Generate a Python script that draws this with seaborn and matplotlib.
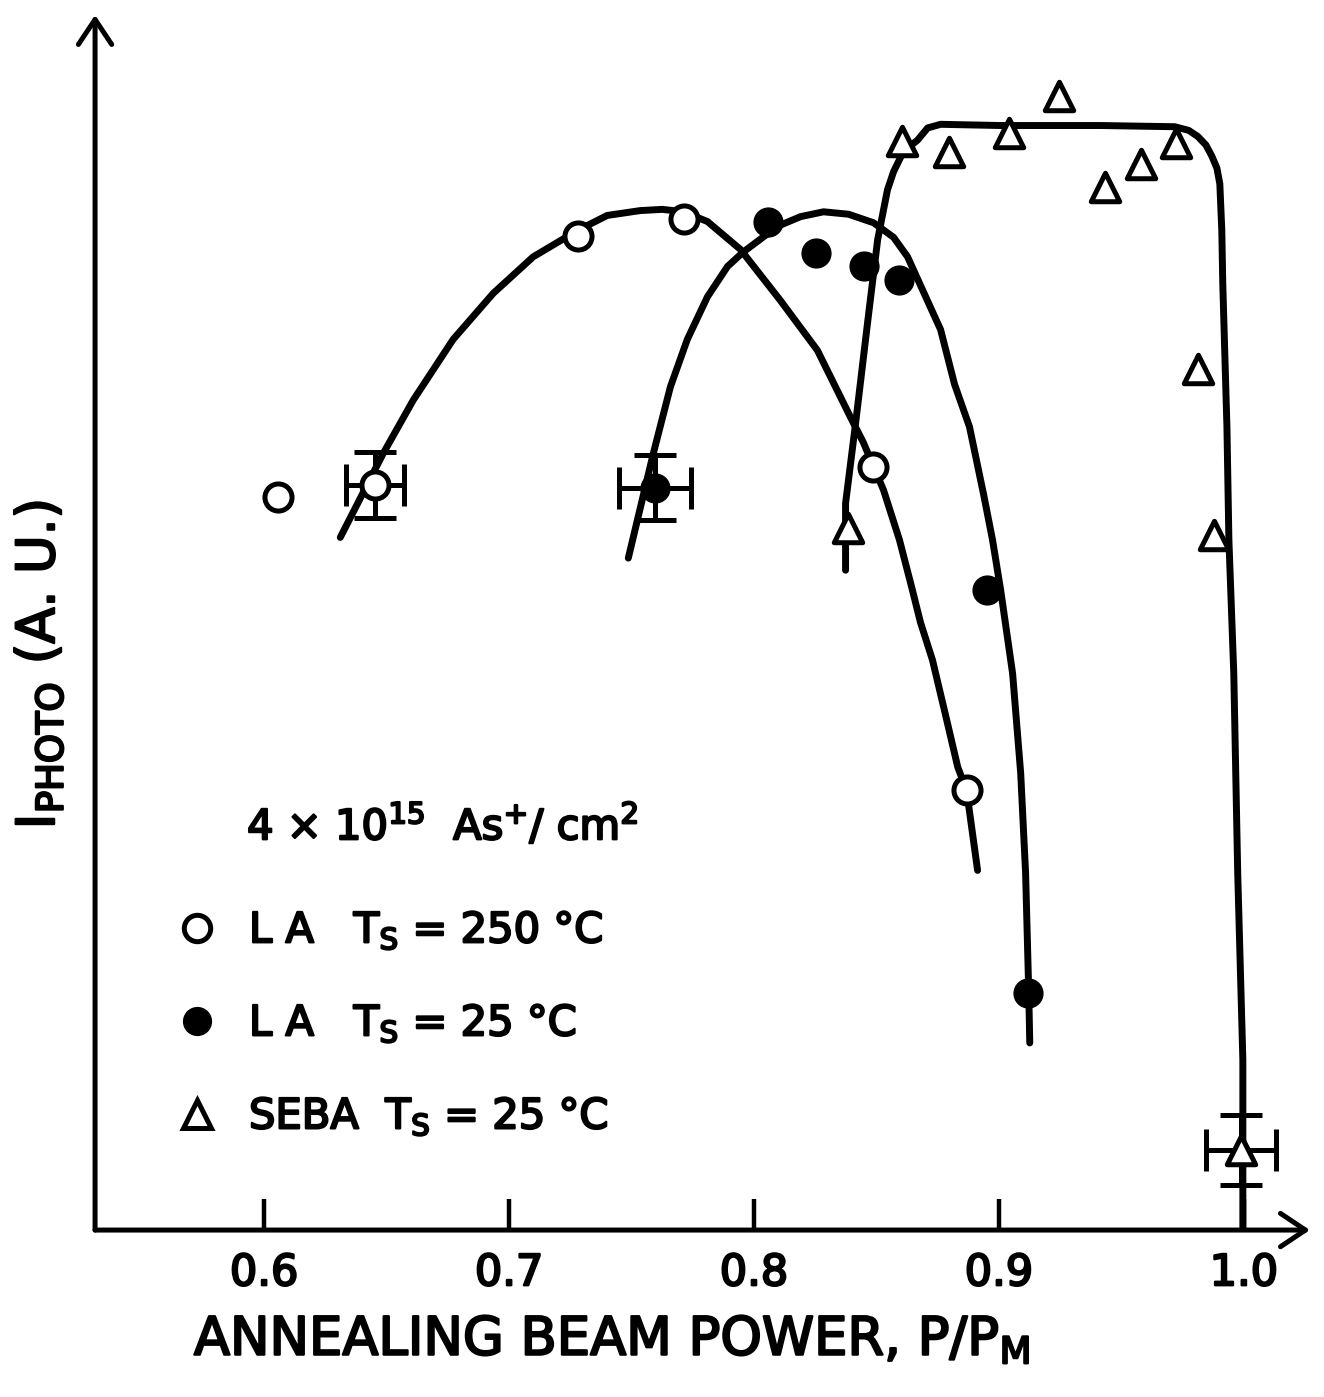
import numpy as np
import pandas as pd
import matplotlib
matplotlib.use("Agg")
import matplotlib.pyplot as plt
import matplotlib.patheffects as pe
from matplotlib.lines import Line2D
import seaborn as sns

# ---------------- data ----------------
la250_x = [0.6057, 0.6454, 0.7283, 0.7716, 0.8488, 0.8868]
la250_y = [60.3, 61.3, 81.8, 83.2, 62.8, 36.2]

la25_x = [0.7598, 0.8059, 0.8255, 0.8451, 0.8594, 0.8950, 0.9117]
la25_y = [61.1, 83.0, 80.4, 79.3, 78.2, 52.7, 19.5]

seba_x = [0.8382, 0.8603, 0.8795, 0.9040, 0.9244, 0.9432, 0.9579,
          0.9722, 0.9812, 0.9877, 0.9988]
seba_y = [57.8, 89.6, 88.7, 90.3, 93.3, 85.8, 87.7, 89.5, 70.9, 57.2, 6.6]

# error-bar points
err_x = [0.6454, 0.7598, 0.9988]
err_y = [61.3, 61.1, 6.6]
err_dx = [0.0118, 0.0147, 0.0143]
err_dy = [2.7, 2.7, 2.9]

# hand-drawn guide curves
curve250_x = [0.6311, 0.6486, 0.6609, 0.6772, 0.6936, 0.7099, 0.7283, 0.7401,
              0.7536, 0.7626, 0.7712, 0.7810, 0.7945, 0.8108, 0.8259, 0.8394,
              0.8447, 0.8529, 0.8594, 0.8644, 0.8680, 0.8729, 0.8782, 0.8832,
              0.8868, 0.8913]
curve250_y = [57.0, 63.9, 68.3, 73.3, 77.1, 80.1, 82.3, 83.5,
              83.9, 84.0, 83.8, 83.0, 80.7, 76.5, 72.4, 66.9,
              64.8, 60.9, 56.8, 52.9, 50.0, 46.9, 42.4, 38.1,
              36.2, 29.6]

curve25_x = [0.7487, 0.7589, 0.7659, 0.7728, 0.7810, 0.7892, 0.7957, 0.8096,
             0.8190, 0.8284, 0.8386, 0.8488, 0.8570, 0.8627, 0.8762, 0.8819,
             0.8880, 0.8938, 0.8974, 0.9007, 0.9056, 0.9089, 0.9109, 0.9122,
             0.9126]
curve25_y = [55.3, 63.9, 69.4, 73.3, 76.8, 79.3, 80.5, 82.6,
             83.4, 83.8, 83.6, 82.9, 81.7, 80.1, 74.1, 69.6,
             66.1, 60.5, 56.8, 52.7, 45.8, 37.6, 29.4, 19.5,
             15.4]

curveseba_x = [0.8374, 0.8374, 0.8415, 0.8464, 0.8505, 0.8545, 0.8570, 0.8599,
               0.8631, 0.8668, 0.8709, 0.8762, 0.9007, 0.9416, 0.9718, 0.9775,
               0.9812, 0.9845, 0.9869, 0.9890, 0.9902, 0.9910, 0.9914, 0.9931,
               0.9939, 0.9959, 0.9975, 0.9996, 0.9996]
curveseba_y = [54.3, 59.8, 66.4, 74.7, 81.5, 85.6, 87.1, 88.3,
               89.1, 89.7, 90.7, 91.0, 90.9, 90.9, 90.8, 90.5,
               90.0, 89.3, 88.4, 87.4, 86.1, 82.3, 77.9, 66.1,
               56.8, 45.8, 29.4, 14.0, 0.0]

tick_vals = [0.6, 0.7, 0.8, 0.9, 1.0]
tick_labels = ["0.6", "0.7", "0.8", "0.9", "1.0"]

legend_title = r"4 × 10$^{\mathregular{15}}$  As$^{\mathregular{+}}$/ cm$^{\mathregular{2}}$"
legend_labels = [r"L A   T$_{\mathregular{S}}$ = 250 °C",
                 r"L A   T$_{\mathregular{S}}$ = 25 °C",
                 r"SEBA  T$_{\mathregular{S}}$ = 25 °C"]
xlabel = r"ANNEALING BEAM POWER, P/P$_{\mathregular{M}}$"
ylabel = r"I$_{\mathregular{PHOTO}}$ (A. U.)"

# ---------------- style ----------------
sns.set_theme(style="white")
plt.rcParams["font.family"] = ["DejaVu Sans"]
plt.rcParams["mathtext.fontset"] = "dejavusans"
plt.rcParams["text.color"] = "black"
plt.rcParams["axes.labelcolor"] = "black"
plt.rcParams["xtick.color"] = "black"
plt.rcParams["ytick.color"] = "black"

thick = [pe.withStroke(linewidth=1.6, foreground="black")]

fig = plt.figure(figsize=(13.24, 13.97), dpi=100)
fig.patch.set_facecolor("white")
ax = fig.add_axes([0.0718, 0.1195, 0.9176, 0.8698])
ax.set_facecolor("white")

LW = 5.0
for cx, cy in [(curve250_x, curve250_y), (curve25_x, curve25_y),
               (curveseba_x, curveseba_y)]:
    df = pd.DataFrame({"x": cx, "y": cy})
    sns.lineplot(data=df, x="x", y="y", sort=False, estimator=None,
                 color="black", lw=LW, ax=ax, zorder=2,
                 solid_capstyle="round", solid_joinstyle="round")

ax.errorbar(err_x, err_y, xerr=err_dx, yerr=err_dy, fmt="none",
            ecolor="black", elinewidth=3.6, capsize=15, capthick=3.6,
            zorder=3)

sns.scatterplot(x=la250_x, y=la250_y, marker="o", s=380, facecolor="white",
                edgecolor="black", linewidth=3.6, ax=ax, zorder=4)
sns.scatterplot(x=la25_x, y=la25_y, marker="o", s=430, facecolor="black",
                edgecolor="black", linewidth=1, ax=ax, zorder=4)
sns.scatterplot(x=seba_x, y=seba_y, marker="^", s=420, facecolor="white",
                edgecolor="black", linewidth=3.6, ax=ax, zorder=4)

ax.set_xlim(0.531, 1.027)
ax.set_ylim(0, 100)

for s in ax.spines.values():
    s.set_visible(False)

# axes with arrow heads
arrow_kw = dict(arrowstyle="->,head_length=0.6,head_width=0.4", lw=3.6,
                color="black", shrinkA=0, shrinkB=0, mutation_scale=30)
ax.annotate("", xy=(1.0, 0.0), xytext=(0.0, 0.0), xycoords="axes fraction",
            textcoords="axes fraction", arrowprops=arrow_kw,
            annotation_clip=False)
ax.annotate("", xy=(0.0, 1.0), xytext=(0.0, 0.0), xycoords="axes fraction",
            textcoords="axes fraction", arrowprops=arrow_kw,
            annotation_clip=False)

ax.set_xticks(tick_vals)
ax.set_xticklabels(tick_labels)
ax.set_yticks([])
ax.tick_params(axis="x", direction="in", length=22, width=3.2,
               color="black", labelcolor="black", pad=16, labelsize=31,
               bottom=True)
for t in ax.get_xticklabels():
    t.set_path_effects(thick)

ax.set_xlabel("")
ax.set_ylabel("")
fig.text(0.462, 0.041, xlabel, ha="center", va="center", fontsize=38,
         color="black", path_effects=thick)
fig.text(0.029, 0.524, ylabel, ha="center", va="center", fontsize=38,
         color="black", rotation=90, path_effects=thick)

# legend block
fig.text(0.1866, 0.399, legend_title, ha="left", va="baseline",
         fontsize=30, color="black", path_effects=thick)
handles = [
    Line2D([], [], marker="o", ls="none", ms=19, mfc="white", mec="black", mew=3.6),
    Line2D([], [], marker="o", ls="none", ms=20, mfc="black", mec="black", mew=1),
    Line2D([], [], marker="^", ls="none", ms=20, mfc="white", mec="black", mew=3.6),
]
leg = ax.legend(handles, legend_labels, loc="upper left",
                bbox_to_anchor=(0.133, 0.349), bbox_transform=fig.transFigure,
                frameon=False, fontsize=30, handlelength=1.0,
                handletextpad=0.75, labelspacing=1.22, borderpad=0,
                borderaxespad=0)
for t in leg.get_texts():
    t.set_color("black")
    t.set_path_effects(thick)

fig.savefig("out.png", dpi=100, facecolor="white")
